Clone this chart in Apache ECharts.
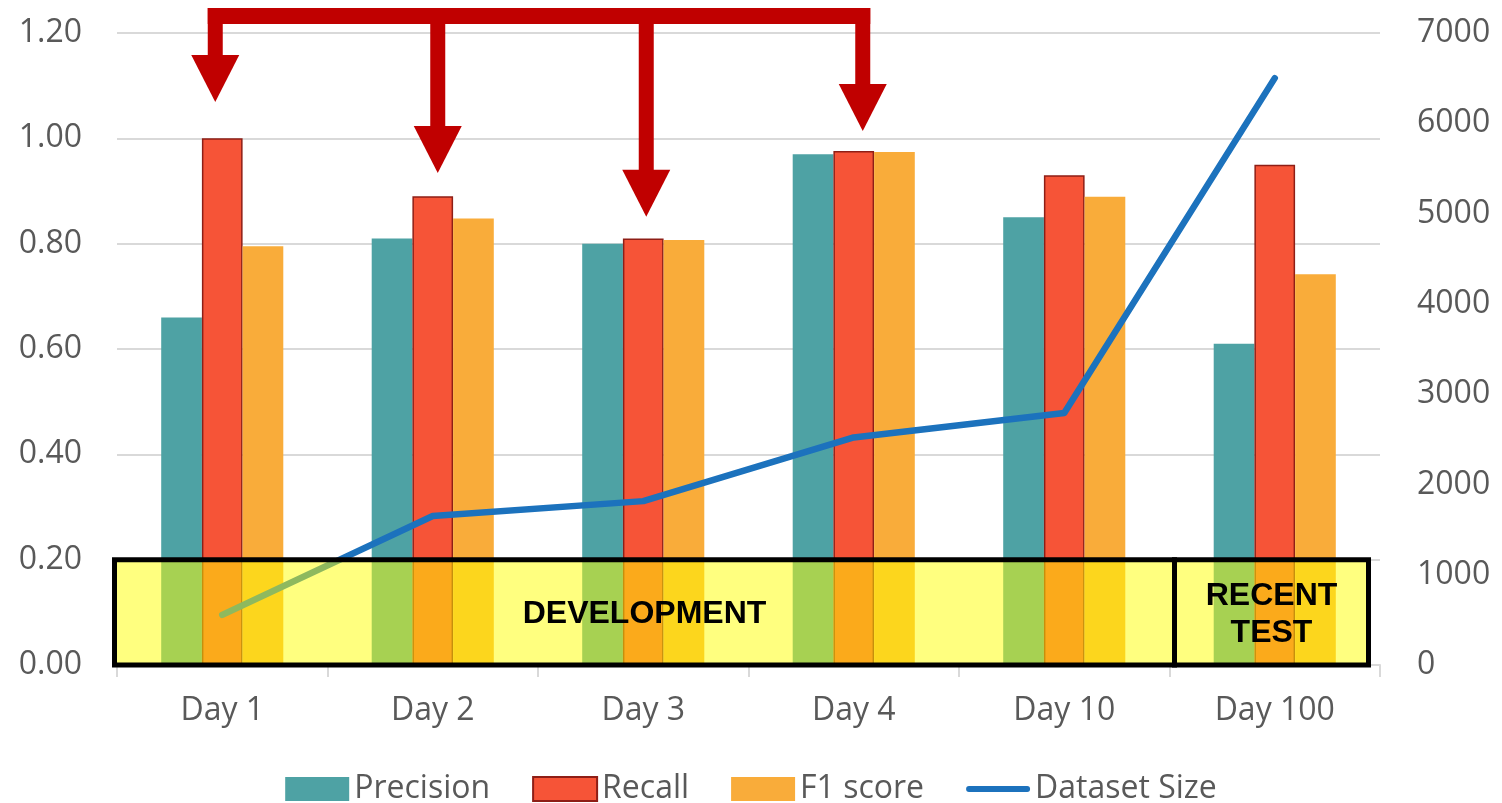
<!DOCTYPE html>
<html>
<head>
<meta charset="utf-8">
<script src="https://cdn.jsdelivr.net/npm/echarts@6/dist/echarts.min.js"></script>
<style>
html,body{margin:0;padding:0;background:#fff;}
#main{width:1502px;height:803px;}
</style>
</head>
<body>
<div id="main"></div>
<script>
const categories = ['Day 1', 'Day 2', 'Day 3', 'Day 4', 'Day 10', 'Day 100'];
const precision = [0.66, 0.81, 0.80, 0.97, 0.85, 0.61];
const recall = [1.00, 0.89, 0.81, 0.976, 0.93, 0.95];
const f1score = [0.795, 0.848, 0.807, 0.974, 0.889, 0.742];
const datasetSize = [555, 1650, 1815, 2520, 2790, 6500];
const leftTicks = [0, 0.2, 0.4, 0.6, 0.8, 1.0, 1.2];
const rightTicks = [0, 1000, 2000, 3000, 4000, 5000, 6000, 7000];
// annotation: arrows point at these categories, tips at these left-axis values
const arrowCategories = ['Day 1', 'Day 2', 'Day 3', 'Day 4'];
const arrowTipValues = [1.069, 0.934, 0.851, 1.014];
// annotation: highlighted band (left-axis values) and its two sections
const bandRange = [0, 0.2];
const sections = [
  { label: 'DEVELOPMENT', from: 'Day 1', to: 'Day 10' },
  { label: 'RECENT\nTEST', from: 'Day 100', to: 'Day 100' }
];

const FONT = '"Open Sans", "Noto Sans", sans-serif';
const GRAY = '#595959';
const FS = 32;

const chart = echarts.init(document.getElementById('main'));
chart.setOption({
  animation: false,
  backgroundColor: '#ffffff',
  grid: { left: 117, right: 122, top: 33, bottom: 138, containLabel: false },
  legend: {
    left: 'center',
    top: 768,
    itemWidth: 64,
    itemHeight: 24,
    itemGap: 42,
    textStyle: { fontFamily: FONT, fontSize: FS, color: GRAY },
    data: [
      { name: 'Precision', icon: 'rect' },
      { name: 'Recall', icon: 'rect' },
      { name: 'F1 score', icon: 'rect' },
      { name: 'Dataset Size', icon: 'path://M3,0 L63,0 A3,3 0 0 1 63,6 L3,6 A3,3 0 0 1 3,0 Z' }
    ]
  },
  xAxis: {
    type: 'category',
    data: categories,
    axisLine: { show: true, lineStyle: { color: '#D9D9D9', width: 2 } },
    axisTick: { show: true, length: 12, lineStyle: { color: '#D9D9D9', width: 2 } },
    axisLabel: { fontFamily: FONT, fontSize: FS, color: GRAY, margin: 30 }
  },
  yAxis: [
    {
      type: 'value', min: leftTicks[0], max: leftTicks[leftTicks.length - 1], interval: 0.2,
      axisLine: { show: false }, axisTick: { show: false },
      splitLine: { lineStyle: { color: '#D9D9D9', width: 2 } },
      axisLabel: { fontFamily: FONT, fontSize: FS, color: GRAY, margin: 35,
        formatter: v => v.toFixed(2) }
    },
    {
      type: 'value', min: rightTicks[0], max: rightTicks[rightTicks.length - 1], interval: 1000,
      axisLine: { show: false }, axisTick: { show: false }, splitLine: { show: false },
      axisLabel: { fontFamily: FONT, fontSize: FS, color: GRAY, margin: 37,
        formatter: v => String(v) }
    }
  ],
  series: [
    { name: 'Precision', type: 'bar', data: precision, barGap: '0%', barCategoryGap: '42%',
      itemStyle: { color: '#4EA2A4' } },
    { name: 'Recall', type: 'bar', data: recall, barGap: '0%', barCategoryGap: '42%',
      itemStyle: { color: '#F65437', borderColor: '#8E1E16', borderWidth: 1.5 } },
    { name: 'F1 score', type: 'bar', data: f1score, barGap: '0%', barCategoryGap: '42%',
      itemStyle: { color: '#F9AC3A' } },
    { name: 'Dataset Size', type: 'line', yAxisIndex: 1, data: datasetSize,
      symbol: 'none', z: 5,
      lineStyle: { color: '#1C72BD', width: 6.5, cap: 'round', join: 'round' },
      itemStyle: { color: '#1C72BD' } }
  ]
});

function px(cat, val) {
  return chart.convertToPixel({ xAxisIndex: 0, yAxisIndex: 0 }, [cat, val]);
}

const c0 = px(categories[0], 0)[0];
const c1 = px(categories[1], 0)[0];
const bandW = c1 - c0;
const catLeft = name => px(name, 0)[0] - bandW / 2;
const catRight = name => px(name, 0)[0] + bandW / 2;

const yTop = px(categories[0], bandRange[1])[1];
const yBot = px(categories[0], bandRange[0])[1];

const graphics = [];
const boxLeft = catLeft(sections[0].from) - 2.5;
const divider = catRight(sections[0].to) + 5;
const boxRight = catRight(sections[1].to) - 11.5;
const sectionEdges = [[boxLeft, divider], [divider, boxRight]];

// translucent yellow band
graphics.push({
  type: 'rect', z: 100,
  shape: { x: boxLeft, y: yTop, width: boxRight - boxLeft, height: yBot - yTop },
  style: { fill: 'rgba(255,255,0,0.5)', stroke: null }
});
sections.forEach((s, i) => {
  const [a, b] = sectionEdges[i];
  graphics.push({
    type: 'rect', z: 101,
    shape: { x: a, y: yTop, width: b - a, height: yBot - yTop },
    style: { fill: null, stroke: '#000', lineWidth: 5 }
  });
  graphics.push({
    type: 'text', z: 102,
    x: (a + b) / 2, y: (yTop + yBot) / 2 + 2,
    style: {
      text: s.label, fill: '#000', font: 'bold 32px "Liberation Sans", Arial, sans-serif',
      align: 'center', verticalAlign: 'middle', lineHeight: 37
    }
  });
});

// arrows
const RED = '#C00000';
const shift = [-7, 5, 3, 9];
const stemW = 15, headW = 48, headH = 47;
const barTop = 8, barH = 16;
const xs = arrowCategories.map((c, i) => px(c, 0)[0] + shift[i]);
graphics.push({
  type: 'rect', z: 110,
  shape: { x: xs[0] - stemW / 2, y: barTop, width: xs[xs.length - 1] - xs[0] + stemW, height: barH },
  style: { fill: RED }
});
arrowCategories.forEach((c, i) => {
  const tipY = px(c, arrowTipValues[i])[1];
  const x = xs[i];
  const baseY = tipY - headH;
  graphics.push({
    type: 'rect', z: 110,
    shape: { x: x - stemW / 2, y: barTop, width: stemW, height: baseY - barTop + 1 },
    style: { fill: RED }
  });
  graphics.push({
    type: 'polygon', z: 110,
    shape: { points: [[x - headW / 2, baseY], [x + headW / 2, baseY], [x, tipY]] },
    style: { fill: RED }
  });
});

chart.setOption({ graphic: { elements: graphics } });
</script>
</body>
</html>
